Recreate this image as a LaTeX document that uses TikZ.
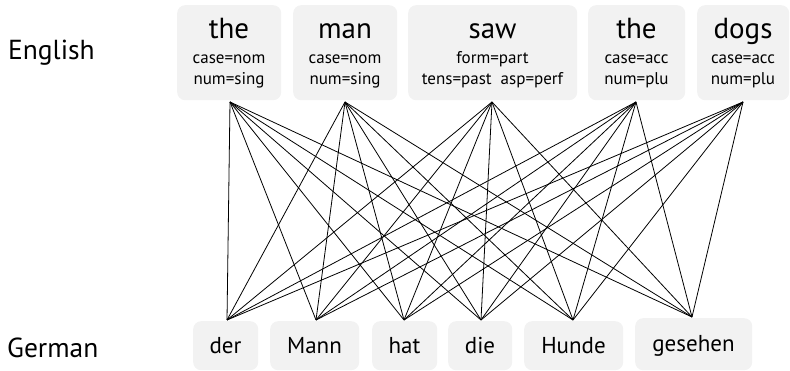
\documentclass[tikz,border=0pt]{standalone}
\usepackage{fontspec}
\setmainfont{PT Sans}
\definecolor{boxgray}{HTML}{F2F2F2}
\begin{document}
\begin{tikzpicture}[
  x=1pt, y=1pt,
  wordbox/.style={fill=boxgray, draw=none, rounded corners=8pt, inner sep=0pt, anchor=north west},
  head/.style={font=\fontsize{29}{29}\selectfont, anchor=base, inner sep=0pt},
  feat/.style={font=\fontsize{17}{17}\selectfont, anchor=base, inner sep=0pt},
  deword/.style={font=\fontsize{23}{23}\selectfont, anchor=base, inner sep=0pt},
  lang/.style={font=\fontsize{27.5}{27.5}\selectfont, anchor=base west, inner sep=0pt},
  link/.style={line width=0.8pt, black}
]
\useasboundingbox (0,0) rectangle (790,-371);

% language labels
\node[lang] (en) at (8,-60) {English};
\node[lang] (de) at (7,-357) {German};

% English words with features
\node[wordbox, minimum width=104, minimum height=95] (e1) at (177,-5) {};
\node[wordbox, minimum width=104, minimum height=95] (e2) at (293,-5) {};
\node[wordbox, minimum width=169, minimum height=95] (e3) at (408,-5) {};
\node[wordbox, minimum width=97,  minimum height=95] (e4) at (588,-5) {};
\node[wordbox, minimum width=92,  minimum height=95] (e5) at (697,-5) {};

\node[head] (e1w) at (229,-39) {the};
\node[feat] (e1a) at (229,-64) {case=nom};
\node[feat] (e1b) at (229,-85) {num=sing};

\node[head] (e2w) at (345,-39) {man};
\node[feat] (e2a) at (345,-64) {case=nom};
\node[feat] (e2b) at (345,-85) {num=sing};

\node[head] (e3w) at (492.5,-39) {saw};
\node[feat] (e3a) at (492.5,-64) {form=part};
\node[feat] (e3b) at (492.5,-85) {tens=past\ \ asp=perf};

\node[head] (e4w) at (636.5,-39) {the};
\node[feat] (e4a) at (636.5,-64) {case=acc};
\node[feat] (e4b) at (636.5,-85) {num=plu};

\node[head] (e5w) at (743,-39) {dogs};
\node[feat] (e5a) at (743,-64) {case=acc};
\node[feat] (e5b) at (743,-85) {num=plu};

% German words
\node[wordbox, minimum width=65,  minimum height=49] (g1) at (193,-321) {};
\node[wordbox, minimum width=89,  minimum height=49] (g2) at (270,-321) {};
\node[wordbox, minimum width=65,  minimum height=49] (g3) at (372,-321) {};
\node[wordbox, minimum width=64,  minimum height=49] (g4) at (448,-321) {};
\node[wordbox, minimum width=99,  minimum height=49] (g5) at (524,-321) {};
\node[wordbox, minimum width=117, minimum height=52] (g6) at (635,-318) {};

\node[deword] (g1w) at (225.5,-353) {der};
\node[deword] (g2w) at (314.5,-353) {Mann};
\node[deword] (g3w) at (404.5,-353) {hat};
\node[deword] (g4w) at (480,-353) {die};
\node[deword] (g5w) at (573.5,-353) {Hunde};
\node[deword] (g6w) at (693.5,-352) {gesehen};

% attachment points of the alignment links
\coordinate (t1) at (230,-102);
\coordinate (t2) at (345,-102);
\coordinate (t3) at (492,-102);
\coordinate (t4) at (636,-102);
\coordinate (t5) at (743,-102);
\coordinate (b1) at (227,-320);
\coordinate (b2) at (316,-320);
\coordinate (b3) at (404,-320);
\coordinate (b4) at (481,-320);
\coordinate (b5) at (573,-320);
\coordinate (b6) at (692,-317);

% every English word linked to every German word
\foreach \i in {1,...,5}{
  \foreach \j in {1,...,6}{
    \draw[link] (t\i) -- (b\j);
  }
}
\end{tikzpicture}
\end{document}
